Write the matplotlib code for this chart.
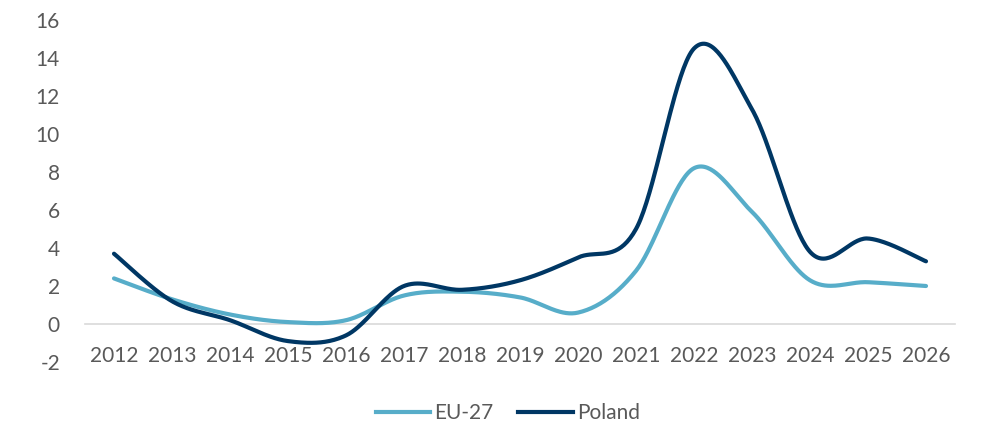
import numpy as np
import matplotlib
matplotlib.use("Agg")
import matplotlib.pyplot as plt
from matplotlib.lines import Line2D

years = ["2012", "2013", "2014", "2015", "2016", "2017", "2018", "2019",
         "2020", "2021", "2022", "2023", "2024", "2025", "2026"]
eu27 = [2.4, 1.3, 0.5, 0.1, 0.2, 1.5, 1.7, 1.4, 0.6, 2.8, 8.2, 5.9, 2.3, 2.2, 2.0]
poland = [3.7, 1.2, 0.2, -0.9, -0.6, 2.0, 1.8, 2.3, 3.5, 5.0, 14.5, 11.3, 3.8, 4.5, 3.3]

EU_COLOR = "#57ADC9"
PL_COLOR = "#003764"
TEXT_COLOR = "#595959"


def smooth(xs, ys, n=40):
    """Cubic Bezier spline through the points (Catmull-Rom style tangents)."""
    xs = np.asarray(xs, float)
    ys = np.asarray(ys, float)
    px = np.concatenate([[xs[0]], xs, [xs[-1]]])
    py = np.concatenate([[ys[0]], ys, [ys[-1]]])
    out_x, out_y = [], []
    t = np.linspace(0, 1, n)
    for i in range(1, len(px) - 2):
        p0 = np.array([px[i], py[i]])
        p3 = np.array([px[i + 1], py[i + 1]])
        c1 = p0 + (np.array([px[i + 1], py[i + 1]]) - np.array([px[i - 1], py[i - 1]])) / 6
        c2 = p3 - (np.array([px[i + 2], py[i + 2]]) - np.array([px[i], py[i]])) / 6
        b = ((1 - t) ** 3)[:, None] * p0 + (3 * (1 - t) ** 2 * t)[:, None] * c1 \
            + (3 * (1 - t) * t ** 2)[:, None] * c2 + (t ** 3)[:, None] * p3
        out_x.extend(b[:, 0])
        out_y.extend(b[:, 1])
    return np.array(out_x), np.array(out_y)


plt.rcParams["font.family"] = ["Lato", "DejaVu Sans"]

fig = plt.figure(figsize=(9.86, 4.23), dpi=100)
ax = fig.add_axes([85 / 986, 1 - 362 / 423, (955 - 85) / 986, (362 - 20) / 423])

x = np.arange(len(years))
ex, ey = smooth(x, eu27)
px_, py_ = smooth(x, poland)
ax.plot(ex, ey, color=EU_COLOR, lw=3.0, solid_capstyle="round", zorder=3)
ax.plot(px_, py_, color=PL_COLOR, lw=3.0, solid_capstyle="round", zorder=4)

ax.set_xlim(-0.5, len(years) - 0.5)
ax.set_ylim(-2, 16)
ax.set_yticks(np.arange(-2, 17, 2))
ax.set_yticklabels([str(v) for v in range(-2, 17, 2)])
ax.set_xticks(x)
ax.set_xticklabels(years)

for s in ["top", "right", "left"]:
    ax.spines[s].set_visible(False)
ax.spines["bottom"].set_position(("data", 0))
ax.spines["bottom"].set_color("#D9D9D9")
ax.spines["bottom"].set_linewidth(1.2)

ax.tick_params(axis="x", length=0, pad=16, labelsize=15, labelcolor=TEXT_COLOR)
ax.tick_params(axis="y", length=0, pad=18, labelsize=15, labelcolor=TEXT_COLOR)

handles = [Line2D([0], [0], color=EU_COLOR, lw=3.0),
           Line2D([0], [0], color=PL_COLOR, lw=3.0)]
fig.legend(handles, ["EU-27", "Poland"], loc="center", bbox_to_anchor=(0.515, 1 - 413 / 423),
           ncol=2, frameon=False, fontsize=15, labelcolor=TEXT_COLOR,
           handlelength=2.6, handletextpad=0.2, columnspacing=1.2)

fig.savefig("out.png", dpi=100)
